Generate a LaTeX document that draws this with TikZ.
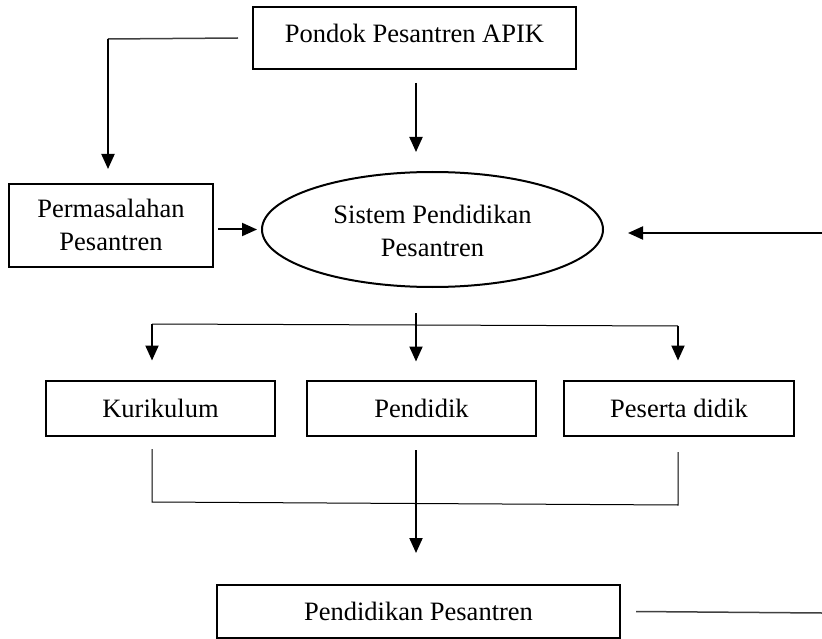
\documentclass[tikz,border=0pt]{standalone}
\usepackage{fontspec}
\setmainfont{Liberation Serif}
\usetikzlibrary{arrows.meta,shapes.geometric,calc}
\newcommand{\lowtwo}[2]{\raisebox{-#1}[\height][\depth]{\begin{tabular}{@{}c@{}}#2\end{tabular}}}
\begin{document}
\begin{tikzpicture}[x=1pt,y=-1pt,
  every node/.style={font=\fontsize{26.5}{33}\selectfont},
  box/.style={draw, line width=2pt, rectangle, inner sep=0pt},
  ellbox/.style={draw, line width=2pt, ellipse, inner sep=0pt, minimum width=341pt, minimum height=115pt},
  arr/.style={line width=2pt, -{Triangle[length=15pt,width=13pt]}},
  thinline/.style={line width=1pt},
  greyline/.style={line width=1.5pt, black!75}]
\useasboundingbox (0,0) rectangle (822,639);

\node[box, minimum width=323pt, minimum height=62pt, text height=18pt, text depth=8pt] (pondok) at (414.5,38) {Pondok Pesantren APIK};
\node[box, minimum width=204pt, minimum height=83pt] (perm) at (111,225.5) {\lowtwo{2pt}{Permasalahan\\Pesantren}};
\node[ellbox] (ell) at (432.5,229.5) {\lowtwo{3.5pt}{Sistem Pendidikan\\Pesantren}};
\node[box, minimum width=229pt, minimum height=55pt] (kur) at (160.5,408) {Kurikulum};
\node[box, minimum width=229pt, minimum height=55pt] (pend) at (421.5,408) {Pendidik};
\node[box, minimum width=230pt, minimum height=55pt] (pes) at (679,408) {Peserta didik};
\node[box, minimum width=403pt, minimum height=53pt] (pp) at (418.5,611.5) {Pendidikan Pesantren};

% Pondok -> Permasalahan
\coordinate (bend) at (108,39);
\draw[greyline] ([xshift=-14pt]pondok.west) -- (bend);
\draw[arr, shorten >=14pt] (bend) -- (bend |- perm.north);

% Pondok -> Sistem
\draw[arr, shorten <=13pt, shorten >=19pt] ([xshift=1.5pt]pondok.south) -- ([xshift=1.5pt]pondok.south |- ell.north);

% Permasalahan -> Sistem
\draw[arr, shorten <=4pt, shorten >=4pt] (perm.east |- ell.west) -- (ell.west);

% incoming from right
\coordinate (rin) at (822,233);
\draw[arr, shorten >=24pt] (rin) -- (rin -| ell.east);

% Sistem -> three
\coordinate (mid) at (416,325);
\draw[arr, shorten <=25pt, shorten >=18pt] (mid |- ell.south) -- (mid |- pend.north);
\coordinate (tl) at (152,324);
\coordinate (tr) at (678,326);
\draw[thinline] (tl) -- (tr);
\draw[arr, shorten >=19pt] (tl) -- (tl |- kur.north);
\draw[arr, shorten >=19pt] (tr) -- (tr |- pes.north);

% three -> Pendidikan Pesantren
\coordinate (bl) at (152,502);
\coordinate (br) at (678,505);
\draw[thinline, shorten <=12.5pt, shorten >=15.5pt] (bl |- kur.south) -- (bl) -- (br) -- (br |- pes.south);
\draw[arr, shorten <=13.5pt, shorten >=31pt] (mid |- pend.south) -- (mid |- pp.north);

% outgoing to right
\coordinate (pout) at (822,613);
\draw[greyline] ([xshift=15pt]pp.east) -- (pout);
\end{tikzpicture}
\end{document}
